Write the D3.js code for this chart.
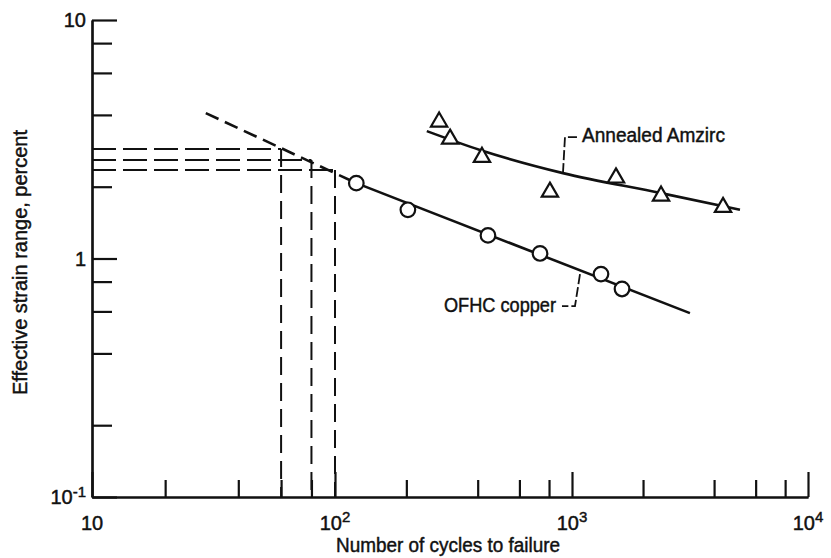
<!DOCTYPE html>
<html><head><meta charset="utf-8">
<script src="https://cdn.jsdelivr.net/npm/d3@7"></script>
<style>
body{margin:0;background:#fff}
svg{display:block;background:#fff}
text{font-family:"Liberation Sans",Arial,sans-serif;fill:#111;stroke:#111;stroke-width:0.45}
.num{font-family:"Liberation Sans Narrow","Liberation Sans",Arial,sans-serif}
</style>
</head><body>
<svg id="chart" width="831" height="558"></svg>
<script>
// ---------- data ----------
const xMajorTicks = [10, 100, 1000, 10000];
const xMajorExp   = ["", "2", "3", "4"];
const xMinorTicks = [20, 40, 60, 80, 200, 400, 600, 800, 2000, 4000, 6000, 8000];
const yMajorTicks = [0.1, 1, 10];
const yMajorBase  = ["10", "1", "10"];
const yMajorExp   = ["-1", "", ""];
const yMinorTicks = [0.2, 0.4, 0.6, 0.8, 2, 4, 6, 8];

const copperCycles = [123, 203, 442, 733, 1327, 1629];
const copperStrain = [2.07, 1.60, 1.25, 1.05, 0.86, 0.745];
const amzircCycles = [275, 306, 417, 807, 1536, 2384, 4365];
const amzircStrain = [3.74, 3.17, 2.66, 1.90, 2.18, 1.83, 1.64];

const copperFitCycles = [123, 3160];
const copperFitStrain = [2.07, 0.59];
const copperExtCycles = [29.4, 123];
const copperExtStrain = [4.07, 2.07];
const amzircFitCycles = [244, 409, 916, 2383, 5150];
const amzircFitStrain = [3.42, 2.85, 2.28, 1.88, 1.60];

const readCycles = [60, 80, 100];
const readStrain = [2.88, 2.59, 2.35];

const amzircLabel = "Annealed Amzirc";
const copperLabel = "OFHC copper";
const amzircLabelCycles = 916;
const copperLabelCycles = 1081;
const xTitle = "Number of cycles to failure";
const yTitle = "Effective strain range, percent";

// ---------- scales ----------
const svg = d3.select("#chart");
const x = d3.scaleLog().domain([10, 100, 1000, 10000]).range([92, 335, 572, 808]);
const y = d3.scaleLog().domain([0.1, 10]).range([497, 20]);
const ink = "#111";

// ---------- axes ----------
const gx = svg.append("g").attr("transform", `translate(0,${y(0.1)})`);
gx.call(d3.axisBottom(x).tickValues(xMinorTicks).tickSizeInner(-17).tickSizeOuter(0).tickFormat(""));
const gx2 = svg.append("g").attr("transform", `translate(0,${y(0.1)})`);
gx2.call(d3.axisBottom(x).tickValues(xMajorTicks).tickSizeInner(-25).tickSizeOuter(0).tickFormat(""));
const gy = svg.append("g").attr("transform", `translate(${x(10)},0)`);
gy.call(d3.axisLeft(y).tickValues(yMinorTicks).tickSizeInner(-20).tickSizeOuter(0).tickFormat(""));
const gy2 = svg.append("g").attr("transform", `translate(${x(10)},0)`);
gy2.call(d3.axisLeft(y).tickValues(yMajorTicks).tickSizeInner(-25).tickSizeOuter(0).tickFormat(""));
svg.selectAll(".domain, .tick line").attr("stroke", ink).attr("stroke-width", 2.2);

// x tick labels
xMajorTicks.forEach((v, i) => {
  const t = svg.append("text").attr("class", "num").attr("x", x(v)).attr("y", y(0.1) + 33)
    .attr("text-anchor", "middle").attr("font-size", 20).text("10");
  if (xMajorExp[i]) t.append("tspan").attr("font-size", 15).attr("dy", -8).text(xMajorExp[i]);
});
// y tick labels
yMajorTicks.forEach((v, i) => {
  const t = svg.append("text").attr("class", "num").attr("x", x(10) - 6).attr("y", y(v) + 7)
    .attr("text-anchor", "end").attr("font-size", 20).text(yMajorBase[i]);
  if (yMajorExp[i]) t.append("tspan").attr("font-size", 15).attr("dy", -7).text(yMajorExp[i]);
});

// axis titles
svg.append("text").attr("x", 336).attr("y", 552).attr("font-size", 20)
  .attr("textLength", 224).attr("lengthAdjust", "spacingAndGlyphs").text(xTitle);
svg.append("text").attr("transform", `translate(27,395) rotate(-90)`).attr("font-size", 20)
  .attr("textLength", 265).attr("lengthAdjust", "spacingAndGlyphs").text(yTitle);

// ---------- reading lines ----------
readCycles.forEach((c, i) => {
  svg.append("line").attr("x1", x(10)).attr("x2", x(c)).attr("y1", y(readStrain[i])).attr("y2", y(readStrain[i]))
    .attr("stroke", ink).attr("stroke-width", 2).attr("stroke-dasharray", "24,7");
  svg.append("line").attr("x1", x(c)).attr("x2", x(c)).attr("y1", y(readStrain[i])).attr("y2", y(0.1))
    .attr("stroke", ink).attr("stroke-width", 2).attr("stroke-dasharray", "18,8");
});

// ---------- fit lines ----------
const line = d3.line().x(d => x(d[0])).y(d => y(d[1]));
svg.append("path").datum(d3.zip(copperExtCycles, copperExtStrain)).attr("d", line)
  .attr("fill", "none").attr("stroke", ink).attr("stroke-width", 2.6).attr("stroke-dasharray", "14,7");
svg.append("path").datum(d3.zip(copperFitCycles, copperFitStrain)).attr("d", line)
  .attr("fill", "none").attr("stroke", ink).attr("stroke-width", 2.6);
const curve = d3.line().x(d => x(d[0])).y(d => y(d[1])).curve(d3.curveMonotoneX);
svg.append("path").datum(d3.zip(amzircFitCycles, amzircFitStrain)).attr("d", curve)
  .attr("fill", "none").attr("stroke", ink).attr("stroke-width", 2.6);

// ---------- markers ----------
svg.selectAll("circle.cu").data(d3.zip(copperCycles, copperStrain)).join("circle")
  .attr("class", "cu").attr("cx", d => x(d[0])).attr("cy", d => y(d[1])).attr("r", 7.3)
  .attr("fill", "#fff").attr("stroke", ink).attr("stroke-width", 2.2);
const tri = d3.symbol().type(d3.symbolTriangle).size(115);
svg.selectAll("path.az").data(d3.zip(amzircCycles, amzircStrain)).join("path")
  .attr("class", "az").attr("d", tri).attr("transform", d => `translate(${x(d[0])},${y(d[1])})`)
  .attr("fill", "#fff").attr("stroke", ink).attr("stroke-width", 2.2).attr("stroke-linejoin", "miter");

// ---------- labels with leaders ----------
function strainOnLine(cs, ss, c) {
  const lx = d3.scaleLog().domain(cs).range(ss.map(Math.log));
  return Math.exp(lx(c));
}
// Amzirc
{
  const ax = x(amzircLabelCycles);
  const ay = y(amzircFitStrain[2]);
  svg.append("path").attr("d", `M${ax},${ay} L${ax + 2},${ay - 36} L${ax + 14},${ay - 36}`)
    .attr("fill", "none").attr("stroke", ink).attr("stroke-width", 1.8).attr("stroke-dasharray", "10,3");
  svg.append("text").attr("x", ax + 19).attr("y", ay - 31).attr("font-size", 20)
    .attr("textLength", 143).attr("lengthAdjust", "spacingAndGlyphs").text(amzircLabel);
}
// Copper
{
  const s = strainOnLine(copperFitCycles, copperFitStrain, copperLabelCycles);
  const cx = x(copperLabelCycles), cy = y(s);
  svg.append("path").attr("d", `M${cx},${cy + 4} L${cx - 5},${cy + 36} L${cx - 18},${cy + 36}`)
    .attr("fill", "none").attr("stroke", ink).attr("stroke-width", 1.8).attr("stroke-dasharray", "10,3");
  svg.append("text").attr("x", cx - 24).attr("y", cy + 42).attr("font-size", 20).attr("text-anchor", "end")
    .attr("textLength", 112).attr("lengthAdjust", "spacingAndGlyphs").text(copperLabel);
}
</script>
</body></html>
